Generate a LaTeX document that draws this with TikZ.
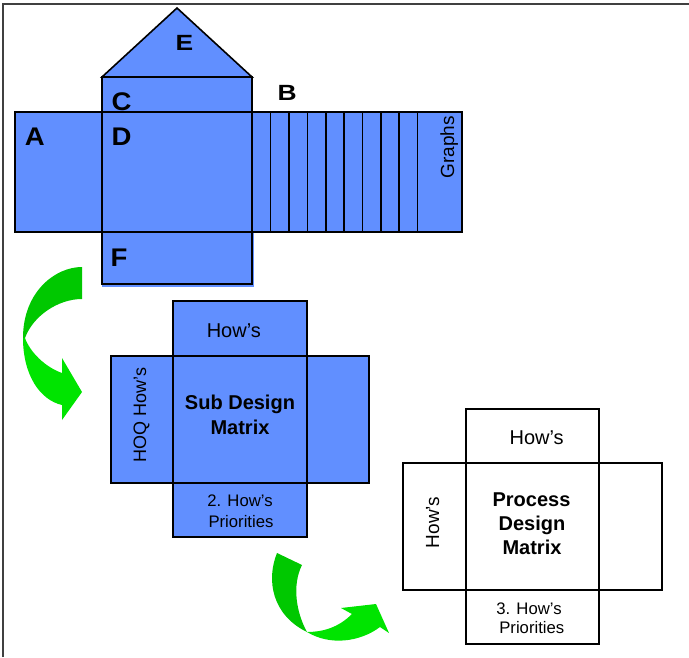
\documentclass[tikz,border=0pt]{standalone}
\usepackage{fontspec}
\setmainfont{Liberation Sans}
\definecolor{qblue}{RGB}{97,143,255}
\definecolor{gdark}{RGB}{0,200,0}
\definecolor{glight}{RGB}{0,228,0}
\begin{document}
\begin{tikzpicture}[x=1pt,y=-1pt,
  box/.style={draw=black,line width=1.6pt,fill=qblue},
  wbox/.style={draw=black,line width=1.6pt,fill=white},
  ln/.style={draw=black,line width=1.6pt},
  letter/.style={font=\fontsize{25.5}{28}\selectfont\bfseries,inner sep=0pt,anchor=base,xscale=1.08},
  sletter/.style={font=\fontsize{22}{26}\selectfont\bfseries,inner sep=0pt,anchor=base,xscale=1.2},
  txt/.style={font=\fontsize{20}{24}\selectfont,inner sep=0pt,anchor=base},
  stxt/.style={font=\fontsize{16.7}{20}\selectfont,inner sep=0pt,anchor=base},
  btxt/.style={font=\fontsize{20}{24}\selectfont\bfseries,inner sep=0pt,anchor=base},
  rtxt/.style={inner sep=0pt,anchor=base,rotate=90}
]
\useasboundingbox (0,0) rectangle (689,657);
% frame
\draw[line width=2pt,black!75] (3,657) -- (3,4) -- (689,4);

% ---------- top diagram ----------
\path[box,line join=miter] (102,77) -- (177,8) -- (252,77) -- cycle;
\path[box] (102,77) rectangle (252,112);
\path[fill=qblue] (102,232) rectangle (254,287);
\path[ln] (102,232) rectangle (252,284);
\path[box] (15,112) rectangle (462,232);
\foreach \xx in {102,252,270.5,289,307.3,325.7,344,362.3,380.7,399,417.3}
  \draw[ln] (\xx,112) -- (\xx,232);

\node[sletter] (E) at (184.5,50) {E};
\node[letter] (C) at (121.5,110) {C};
\node[letter] (D) at (121.5,145.5) {D};
\node[letter] (A) at (34.7,145) {A};
\node[sletter] (B) at (287.2,100.7) {B};
\node[letter] (F) at (119,266.5) {F};
\node[rtxt,font=\fontsize{19}{22}\selectfont] (graphs) at (454,147.5) {Graphs};

% ---------- arrow 1 ----------
\fill[gdark] (82,267) .. controls (55,267) and (23,292) .. (23,338)
  -- (25,338) .. controls (33,316) and (58,299) .. (82,299) -- cycle;
\fill[glight] (23,338) .. controls (23,375) and (40,400) .. (62,405)
  -- (62,420) -- (82,392) -- (62,358) -- (62,373)
  .. controls (45,367) and (30,352) .. (25,338) -- cycle;

% ---------- sub design matrix ----------
\path[box] (173,301) rectangle (307,356);
\path[box] (111,356) rectangle (369,483);
\draw[ln] (173,356) -- (173,483);
\draw[ln] (307,356) -- (307,483);
\path[box] (173,483) rectangle (307,537);

\node[txt] (hows1) at (233.8,337.3) {How’s};
\node[btxt] (sub1) at (240,409.3) {Sub Design};
\node[btxt] (sub2) at (240,434.3) {Matrix};
\node[stxt] (pr1a) at (240,506.7) {2. How’s};
\node[stxt] (pr1b) at (241,527.3) {Priorities};
\node[rtxt,font=\fontsize{18}{22}\selectfont] (hoq) at (146,415) {HOQ How’s};

% ---------- arrow 2 ----------
\fill[gdark] (277,553) .. controls (266,580) and (272,615) .. (307,632)
  -- (307,632) .. controls (296,612) and (292,585) .. (302,565) -- cycle;
\fill[glight] (307,632) .. controls (330,646) and (360,642) .. (380,627)
  -- (389,633) -- (376,604) -- (341,608) -- (352,614)
  .. controls (338,628) and (322,632) .. (307,632) -- cycle;

% ---------- process design matrix ----------
\path[wbox] (466,409) rectangle (599,463);
\path[wbox] (403,463) rectangle (662,590);
\draw[ln] (466,463) -- (466,590);
\draw[ln] (599,463) -- (599,590);
\path[wbox] (466,590) rectangle (599,644);

\node[txt] (hows2) at (536.7,444.3) {How’s};
\node[btxt] (pd1) at (531.5,506) {Process};
\node[btxt] (pd2) at (532,530.5) {Design};
\node[btxt] (pd3) at (532,554) {Matrix};
\node[stxt] (pr2a) at (529,614.3) {3. How’s};
\node[stxt] (pr2b) at (531.8,633.3) {Priorities};
\node[rtxt,font=\fontsize{19}{22}\selectfont] (hows3) at (439,522.5) {How’s};
\end{tikzpicture}
\end{document}
